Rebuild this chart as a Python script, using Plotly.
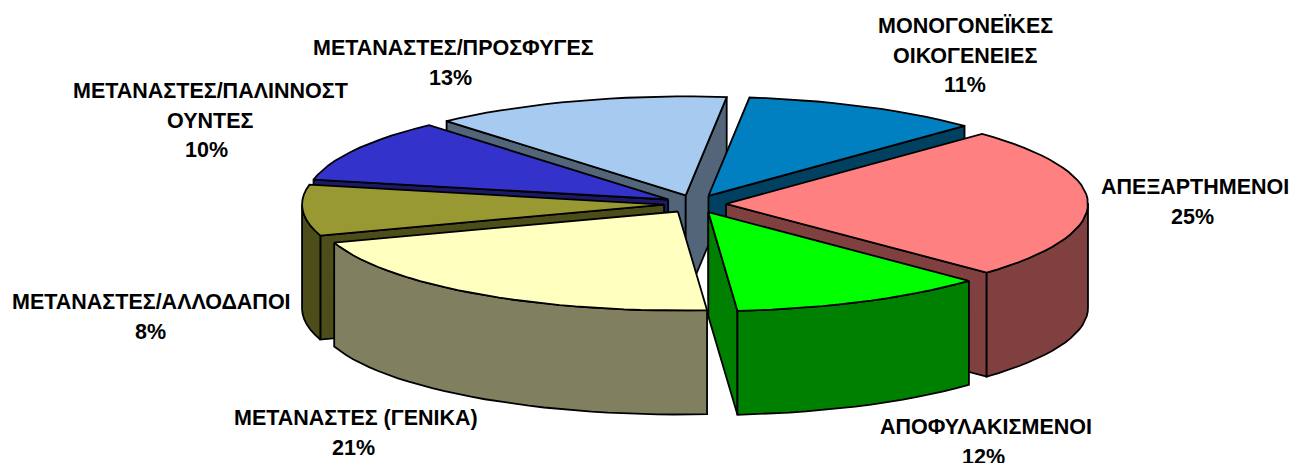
import numpy as np
import plotly.graph_objects as go

categories = ["ΜΟΝΟΓΟΝΕΪΚΕΣ\nΟΙΚΟΓΕΝΕΙΕΣ", "ΑΠΕΞΑΡΤΗΜΕΝΟΙ", "ΑΠΟΦΥΛΑΚΙΣΜΕΝΟΙ",
              "ΜΕΤΑΝΑΣΤΕΣ (ΓΕΝΙΚΑ)", "ΜΕΤΑΝΑΣΤΕΣ/ΑΛΛΟΔΑΠΟΙ",
              "ΜΕΤΑΝΑΣΤΕΣ/ΠΑΛΙΝΝΟΣΤ\nΟΥΝΤΕΣ", "ΜΕΤΑΝΑΣΤΕΣ/ΠΡΟΣΦΥΓΕΣ"]
values = [10.7, 24.7, 11.51, 21.2, 8.3, 10.3, 13.29]
top_colors = ["#0080C0", "#FF8080", "#00FF00", "#FFFFC0", "#999933", "#3333CC", "#A6CAF0"]
wall_colors = ["#004060", "#804040", "#008000", "#808060", "#4D4D1A", "#1A1A66", "#536578"]
draw_order = [6, 0, 5, 4, 1, 3, 2]
label_anchors = [(965, 26), (1195, 187), (986, 427), (356, 418), (151, 302), (210, 91), (453, 48)]
percent_shift = [0, -3, -3, -3, -1, -4, -3]

W, H = 1294, 463
CX, CY = 695, 204
RX, RY = 362, 99
EX, EY = 31, 9
DEPTH = 104
START = 6.5
FS = 21.5

frac = np.array(values) / sum(values)
edges = START + np.concatenate([[0], np.cumsum(frac)]) * 360

fig = go.Figure()


def poly(xs, ys, fill):
    fig.add_trace(go.Scatter(x=xs, y=ys, mode="lines", fill="toself", fillcolor=fill,
                             line=dict(color="black", width=1.8), hoverinfo="skip",
                             showlegend=False))


for i in draw_order:
    a0, a1 = edges[i], edges[i + 1]
    mid = np.radians((a0 + a1) / 2)
    ax = CX + EX * np.sin(mid)
    ay = CY - EY * np.cos(mid)
    th = np.radians(np.linspace(a0, a1, max(int((a1 - a0) / 2.5), 3)))
    rx = ax + RX * np.sin(th)
    ry = ay - RY * np.cos(th)
    # radial walls, only when they face the viewer
    if np.cos(np.radians(a0 - 90)) < 0:
        poly([ax, rx[0], rx[0], ax, ax], [ay, ry[0], ry[0] + DEPTH, ay + DEPTH, ay], wall_colors[i])
    if np.cos(np.radians(a1 + 90)) < 0:
        poly([ax, rx[-1], rx[-1], ax, ax], [ay, ry[-1], ry[-1] + DEPTH, ay + DEPTH, ay], wall_colors[i])
    # outer wall: only the front-facing part of the rim
    front = np.cos(th) <= 0.03
    if front.sum() >= 2:
        fx, fy = rx[front], ry[front]
        poly(np.r_[fx, fx[::-1], fx[0]], np.r_[fy, fy[::-1] + DEPTH, fy[0]], wall_colors[i])
    # top face
    poly(np.r_[ax, rx, ax], np.r_[ay, ry, ay], top_colors[i])

annotations = []
for name, v, (lx, ly), dx in zip(categories, frac, label_anchors, percent_shift):
    lines = name.split("\n")
    rows = [(lx, line) for line in lines] + [(lx + dx, f"{round(v * 100)}%")]
    for k, (tx, line) in enumerate(rows):
        annotations.append(dict(x=tx, y=ly + k * 29.5, text=f"<b>{line}</b>", showarrow=False,
                                xanchor="center", yanchor="middle",
                                font=dict(family="Liberation Sans", size=FS, color="black")))

fig.update_layout(
    width=W, height=H, margin=dict(l=0, r=0, t=0, b=0),
    paper_bgcolor="white", plot_bgcolor="white", showlegend=False,
    xaxis=dict(range=[0, W], visible=False, fixedrange=True),
    yaxis=dict(range=[H, 0], visible=False, fixedrange=True),
    annotations=annotations,
)
fig.write_html("out.html", config={"displayModeBar": False},
               post_script="document.body.style.margin='0';document.body.style.overflow='hidden';")
